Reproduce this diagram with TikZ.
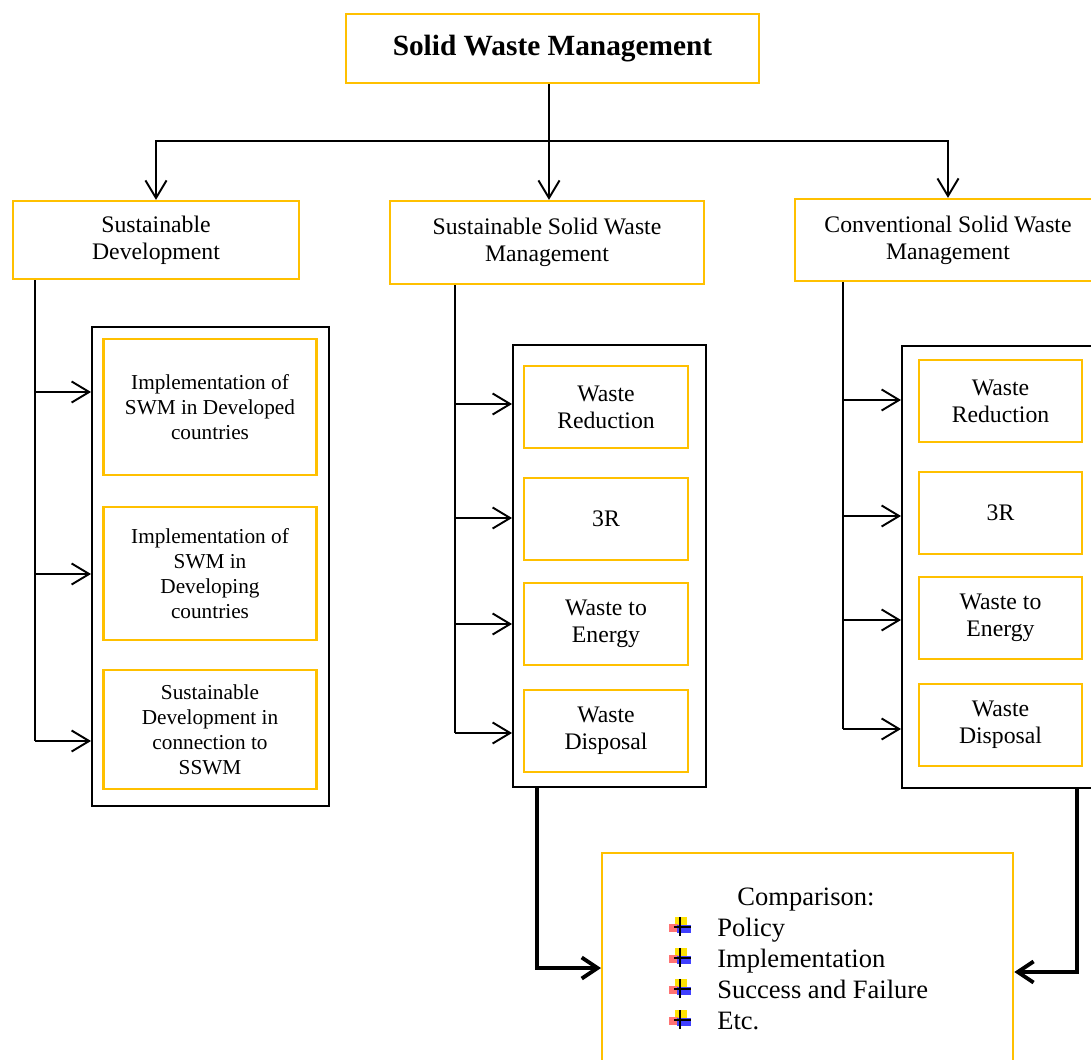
\documentclass[tikz,border=0pt]{standalone}
\usepackage{fontspec}
\setmainfont{Liberation Serif}
\usetikzlibrary{positioning,calc,arrows.meta}
\definecolor{gold}{HTML}{FFC000}

\begin{document}
\begin{tikzpicture}[
    x=0.02cm, y=-0.02cm,
    ybox/.style={draw=gold,
                 line width=1.3pt,
                 fill=white,
                 inner sep=0pt,
                 align=center,
                 font=\fontsize{13.5}{15.4}\selectfont},
    sz/.style 2 args={minimum width=#1*0.02cm, minimum height=#2*0.02cm},
    small/.style={font=\fontsize{12.1}{14.2}\selectfont},
    grp/.style={draw, line width=1.1pt, inner sep=0pt},
    conn/.style={-{Straight Barb[length=10pt,width=12pt]}, line width=1.1pt},
    feed/.style={-{Straight Barb[length=9pt,width=12pt]}, line width=2.2pt},
    item/.style={font=\fontsize{15.1}{17}\selectfont, inner sep=0pt},
    bul/.pic={
        \fill[yellow!85!orange] (-5,-19) rectangle (7,-9);
        \fill[red!55] (-11,-12) rectangle (-2,-4);
        \fill[blue!75] (-3,-11) rectangle (11,-3);
        \draw[line width=0.7pt] (0,-19) -- (0,0) (-6,-9) -- (11,-9);
    }
]
\useasboundingbox (0,0) rectangle (1091,1059);
\clip (0,0) rectangle (1091,1059);

\node[ybox, sz={413}{69}, font=\bfseries\fontsize{16.7}{20}\selectfont] (swm) at (552.5,48.5) {Solid Waste Management};

\node[ybox, sz={286}{78}] (sd) at (156,240) {Sustainable\\Development};
\node[ybox, sz={314}{83}] (sswm) at (547,242.5) {Sustainable Solid Waste\\Management};
\node[ybox, sz={306}{82}] (cswm) at (948,240) {Conventional Solid Waste\\Management};

\node[grp, sz={237}{479}] (lgrp) at (210.5,566.5) {};
\node[grp, sz={193}{442}] (mgrp) at (609.5,566) {};
\node[grp, sz={198}{442}] (rgrp) at (1001,567) {};

\foreach \y/\h/\t [count=\i] in {407/136/{Implementation of\\SWM in Developed\\countries},
                                 573.5/133/{Implementation of\\SWM in\\Developing\\countries},
                                 729.5/119/{Sustainable\\Development in\\connection to\\SSWM}} {
    \node[ybox, small, sz={213}{\h}] (l\i) at (210,\y) {\t};
}

\foreach \y/\t [count=\i] in {407/{Waste\\Reduction}, 519/3R, 624/{Waste to\\Energy}, 731/{Waste\\Disposal}} {
    \node[ybox, sz={164}{82}] (m\i) at (606,\y) {\t};
    \node[ybox, sz={163}{82}] (r\i) at (1000.5,\y-6) {\t};
}

\coordinate (bus) at (549,141);
\draw[line width=1.1pt] (bus |- swm.south) -- (bus);
\draw[conn] (bus) -| (sd.north);
\draw[conn] (bus) -| (cswm.north);
\draw[conn] (bus) -- (bus |- sswm.north);

\foreach \y [count=\i] in {392,574,741} {
    \coordinate (lj\i) at (35,\y);
    \draw[conn] (lj\i) -- (lj\i -| lgrp.west);
}
\draw[line width=1.1pt] (lj1 |- sd.south) -- (lj3);

\foreach \y [count=\i] in {404,518,624,733} {
    \coordinate (mj\i) at (455,\y);
    \draw[conn] (mj\i) -- (mj\i -| mgrp.west);
}
\draw[line width=1.1pt] (mj1 |- sswm.south) -- (mj4);

\foreach \y [count=\i] in {400,516,620,729} {
    \coordinate (rj\i) at (843,\y);
    \draw[conn] (rj\i) -- (rj\i -| rgrp.west);
}
\draw[line width=1.1pt] (rj1 |- cswm.south) -- (rj4);

\node[ybox, sz={411}{240}, anchor=north west] (cmp) at (601,852) {};
\node[item, anchor=base] (cmptitle) at (806,905) {Comparison:};
\foreach \t [count=\i] in {Policy, Implementation, Success and Failure, Etc.} {
    \node[item, anchor=base west] (it\i) at (717,905+31*\i) {\t};
    \pic at (680,905+31*\i) {bul};
}

\coordinate (mturn) at (537,968);
\draw[feed] (mturn |- mgrp.south) -- (mturn) -- (mturn -| cmp.west);
\coordinate (rturn) at (1077,972);
\draw[feed] (rturn |- rgrp.south) -- (rturn) -- (rturn -| cmp.east);
\end{tikzpicture}
\end{document}
